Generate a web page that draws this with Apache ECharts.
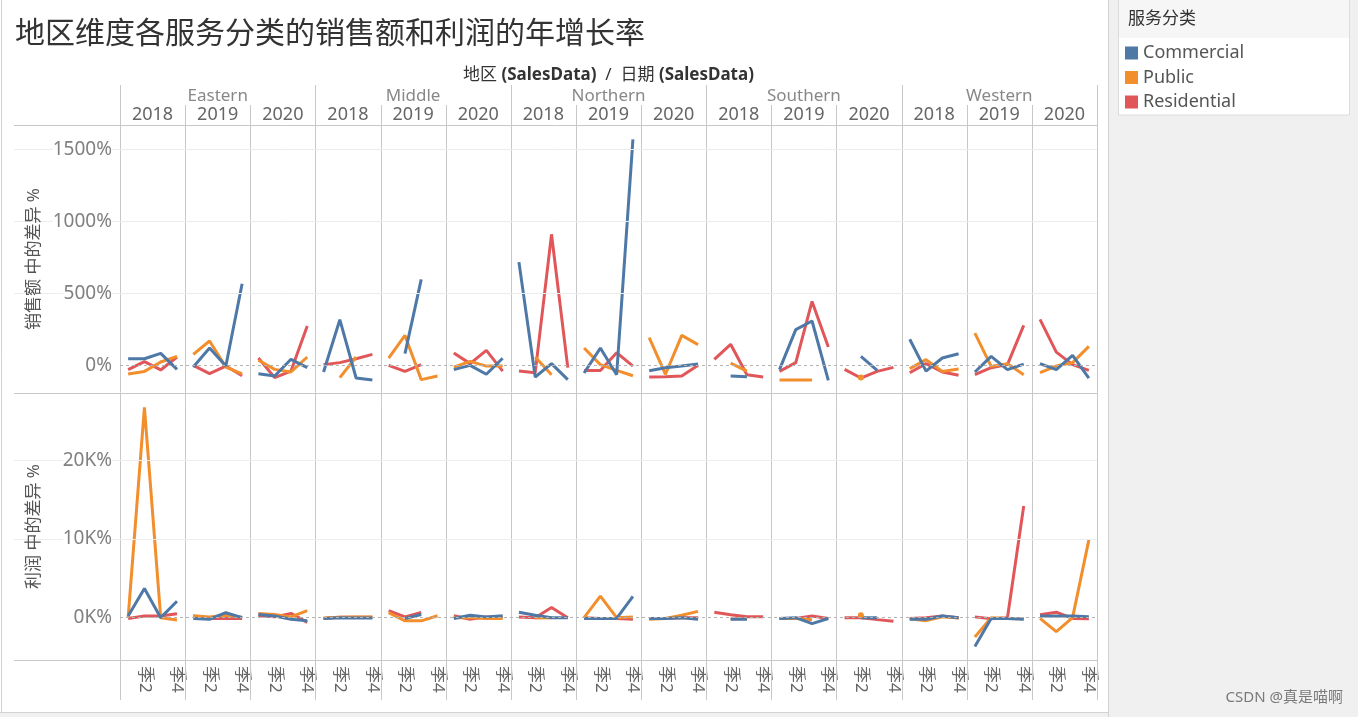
<!DOCTYPE html>
<html><head><meta charset="utf-8">
<script src="https://cdn.jsdelivr.net/npm/echarts@6/dist/echarts.min.js"></script>
<style>html,body{margin:0;padding:0;background:#fff}#c{width:1358px;height:717px}</style>
</head><body><div id="c"></div>
<script>
// ---------------- data ----------------
const regions = ['Eastern', 'Middle', 'Northern', 'Southern', 'Western'];
const years = ['2018', '2019', '2020'];
const quarters = ['季1', '季2', '季3', '季4'];
const serviceTypes = ['Commercial', 'Public', 'Residential'];
const salesTicks = [0, 500, 1000, 1500];
const profitTicks = [0, 10000, 20000];

// 销售额 中的差异 % : 15 panels (region x year) x 4 quarters
const salesCommercial = [
  46, 46, 83, -28,     -12, 120, -5, 567,     -58, -74, 42, -16,
  -46, 317, -88, -102, null, 81, 597, null,   -30, 0, -62, 49,
  717, -81, 12, -99,   -53, 120, -65, 1569,   -37, -16, -5, 9,
  null, -74, -79, null, -30, 248, 308, -104,  null, 62, -35, null,
  181, -40, 51, 81,    -46, 62, -30, 9,       12, -30, 69, -88
];
const salesPublic = [
  -60, -42, 23, 62,    76, 169, -12, -60,     35, -28, -46, 58,
  null, -85, 58, null, 51, 208, -99, -74,     -12, 28, -5, -5,
  null, 58, -65, null, 120, 5, -35, -72,      192, -62, 208, 144,
  null, 16, -40, null, -102, -102, -102, null, null, -85, null, null,
  -23, 40, -42, -26,   224, -7, 12, -65,      -51, -5, 19, 132
];
const salesResidential = [
  -30, 26, -32, 58,    0, -58, -5, -72,       51, -85, -40, 273,
  5, 19, 46, 76,       0, -42, 5, null,       85, 12, 104, -40,
  -40, -51, 910, -16,  -35, -35, 88, -5,      -81, -79, -74, 0,
  42, 146, -65, -81,   -42, 19, 444, 127,     -28, -88, -42, -14,
  -51, 12, -46, -69,   -65, -16, 5, 278,      319, 92, 5, -35
];

// 利润 中的差异 %
const profitCommercial = [
  200, 3700, 0, 2080,   -100, -200, 630, 0,    400, 200, -200, -400,
  -100, 0, -50, -50,    null, -100, 400, null, -100, 300, 100, 250,
  700, 300, 0, 0,       -100, -100, -100, 2700, -100, -100, 0, -200,
  null, -200, -200, null, -100, 0, -760, -100, null, 0, 0, null,
  -200, -200, 200, 0,   -3660, -100, -100, -200, 200, 200, 200, 130
];
const profitPublic = [
  0, 26725, 0, -300,    250, 100, 300, 50,     540, 400, 100, 900,
  -50, 50, 100, 100,    650, -400, -400, 250,  0, 0, -100, -100,
  null, -50, 0, null,   0, 2730, 0, 100,       -200, -100, 300, 800,
  null, -150, -150, null, -100, -100, -250, null, null, 300, null, null,
  -150, -380, 100, -50, -2450, 0, -100, -150,  -100, -1770, 0, 9890
];
const profitResidential = [
  -100, 200, 200, 500,  200, -100, -100, -100, 250, 100, 540, -600,
  -100, 50, 50, 50,     900, 100, 650, null,   250, -200, 100, 100,
  100, 0, 1300, 0,      0, -100, -100, -200,   -100, -100, 0, 0,
  700, 380, 130, 130,   -100, -100, 200, -100, 0, 0, -250, -470,
  -100, 0, 200, 0,      100, -150, 0, 14180,   380, 700, -100, -150
];

// ---------------- layout ----------------
const PLOT_L = 120, PLOT_R = 1097, AXIS_L = 14;
const NP = regions.length * years.length;
const PW = (PLOT_R - PLOT_L) / NP;
const rowsDef = [
  { top: 125, height: 268, min: -192, max: 1669, ticks: salesTicks,
    fmt: v => v + '%', title: '销售额 中的差异 %',
    data: { Commercial: salesCommercial, Public: salesPublic, Residential: salesResidential } },
  { top: 393, height: 267, min: -5380, max: 28550, ticks: profitTicks,
    fmt: v => (v / 1000) + 'K%', title: '利润 中的差异 %',
    data: { Commercial: profitCommercial, Public: profitPublic, Residential: profitResidential } }
];
const colors = { Commercial: '#4e79a7', Public: '#f28e2b', Residential: '#e15759' };
const drawOrder = ['Residential', 'Public', 'Commercial'];
const FONT = "'Noto Sans', 'Noto Sans CJK SC', sans-serif";

const grid = [], xAxis = [], yAxis = [], series = [];

rowsDef.forEach((row, r) => {
  // background grid for gridlines (pixel-scaled x axis)
  const bi = grid.length;
  grid.push({ left: AXIS_L, width: PLOT_R - AXIS_L, top: row.top, height: row.height, show: false });
  xAxis.push({ gridIndex: bi, type: 'value', min: AXIS_L, max: PLOT_R, show: false });
  yAxis.push({ gridIndex: bi, type: 'value', min: row.min, max: row.max, show: false });
  const gl = row.ticks.filter(t => t !== 0).map(t => [{ xAxis: AXIS_L, yAxis: t }, { xAxis: PLOT_R, yAxis: t }]);
  gl.push([{ xAxis: PLOT_L, yAxis: 0, lineStyle: { type: [3, 3], color: '#b4b4b4' } }, { xAxis: PLOT_R, yAxis: 0 }]);
  series.push({
    type: 'line', xAxisIndex: bi, yAxisIndex: bi, data: [], silent: true, z: -1,
    markLine: { silent: true, symbol: 'none', label: { show: false }, animation: false,
      lineStyle: { color: '#ededed', width: 1, type: 'solid' }, data: gl }
  });

  for (let c = 0; c < NP; c++) {
    const gi = grid.length;
    grid.push({ left: PLOT_L + c * PW, width: PW, top: row.top, height: row.height, show: false });
    xAxis.push({
      gridIndex: gi, type: 'category', data: quarters, boundaryGap: true,
      axisLine: { show: false }, axisTick: { show: false }, splitLine: { show: false },
      axisLabel: {
        show: r === 1, interval: (i) => i % 2 === 1, rotate: -90, margin: 6,
        fontSize: 17, color: '#666', fontFamily: FONT
      }
    });
    yAxis.push({
      gridIndex: gi, type: 'value', min: row.min, max: row.max, z: 5,
      axisLine: { show: false }, axisTick: { show: false }, splitLine: { show: false },
      axisLabel: {
        show: c === 0, customValues: row.ticks, formatter: row.fmt, margin: 8,
        fontSize: 19, color: '#808080', fontFamily: FONT, backgroundColor: '#fff'
      },
      name: c === 0 ? row.title : '', nameLocation: 'middle', nameGap: 77, nameRotate: 90,
      nameTextStyle: { fontSize: 17, color: '#555', fontFamily: FONT }
    });
    drawOrder.forEach(cat => {
      const vals = row.data[cat].slice(c * 4, c * 4 + 4);
      const data = vals.map((v, i) => {
        const isolated = v != null && (i === 0 || vals[i - 1] == null) && (i === 3 || vals[i + 1] == null);
        return isolated ? { value: v, symbol: 'circle', symbolSize: 6 } : v;
      });
      series.push({
        name: cat, type: 'line', xAxisIndex: gi, yAxisIndex: gi, data,
        symbol: 'none', showSymbol: true, connectNulls: false, z: 3,
        lineStyle: { color: colors[cat], width: 3 },
        itemStyle: { color: colors[cat] },
        emphasis: { disabled: true }
      });
    });
  }
});

// ---------------- decoration ----------------
const graphic = [];
const LC = '#c8c8c8';
graphic.push({ type: 'rect', z: -10, shape: { x: 1108, y: 0, width: 250, height: 717 }, style: { fill: '#f0f0f0' } });
graphic.push({ type: 'rect', z: -10, shape: { x: 0, y: 713, width: 1108, height: 4 }, style: { fill: '#f0f0f0' } });
graphic.push({ type: 'line', z: -9, shape: { x1: 1108.5, y1: 0, x2: 1108.5, y2: 717 }, style: { stroke: '#d2d2d2', lineWidth: 1 } });
graphic.push({ type: 'line', z: -9, shape: { x1: 0, y1: 712.5, x2: 1108, y2: 712.5 }, style: { stroke: '#d2d2d2', lineWidth: 1 } });
graphic.push({ type: 'line', z: -9, shape: { x1: 1.5, y1: 0, x2: 1.5, y2: 713 }, style: { stroke: '#d2d2d2', lineWidth: 1 } });
// legend box
graphic.push({ type: 'rect', z: -5, shape: { x: 1118.5, y: -1, width: 231, height: 116 }, style: { fill: '#fff', stroke: '#dcdcdc', lineWidth: 1 } });
graphic.push({ type: 'rect', z: -4, shape: { x: 1119, y: 0, width: 230, height: 38 }, style: { fill: '#f6f6f6' } });
graphic.push({ type: 'text', z: 5, style: { text: '服务分类', x: 1128, y: 19, verticalAlign: 'middle', fontSize: 17, fill: '#333', fontFamily: FONT } });
// title
graphic.push({ type: 'text', z: 5, style: { text: '地区维度各服务分类的销售额和利润的年增长率', x: 15, y: 32, verticalAlign: 'middle', fontSize: 30, fill: '#333', fontFamily: "'Noto Sans CJK SC', sans-serif" } });
// header caption
graphic.push({ type: 'text', z: 5, style: {
  text: '地区 {b|(SalesData)}  /  日期 {b|(SalesData)}', x: (PLOT_L + PLOT_R) / 2, y: 75, align: 'center', verticalAlign: 'middle',
  fontSize: 17, fill: '#333', fontFamily: FONT, rich: { b: { fontWeight: 'bold', fontSize: 17, fill: '#333', fontFamily: FONT } } } });
regions.forEach((rg, i) => {
  graphic.push({ type: 'text', z: 5, style: { text: rg, x: PLOT_L + (i * 3 + 1.5) * PW, y: 96, align: 'center', verticalAlign: 'middle', fontSize: 17, fill: '#888', fontFamily: FONT } });
  years.forEach((yr, j) => {
    graphic.push({ type: 'text', z: 5, style: { text: yr, x: PLOT_L + (i * 3 + j + 0.5) * PW, y: 115, align: 'center', verticalAlign: 'middle', fontSize: 18, fill: '#666', fontFamily: FONT } });
  });
});
// separators
for (let k = 0; k <= NP; k++) {
  const x = Math.round(PLOT_L + k * PW) + 0.5;
  graphic.push({ type: 'line', z: 2, shape: { x1: x, y1: (k % 3 === 0) ? 85 : 105, x2: x, y2: 700 }, style: { stroke: LC, lineWidth: 1 } });
}
[125, 393, 660].forEach(y => {
  graphic.push({ type: 'line', z: 2, shape: { x1: AXIS_L, y1: y + 0.5, x2: PLOT_R, y2: y + 0.5 }, style: { stroke: LC, lineWidth: 1 } });
});
// watermark
graphic.push({ type: 'text', z: 5, style: { text: 'CSDN @真是喵啊', x: 1343, y: 698, align: 'right', verticalAlign: 'middle', fontSize: 15, fill: '#7a7a7a', fontFamily: FONT } });

const chart = echarts.init(document.getElementById('c'), null, { renderer: 'canvas' });
chart.setOption({
  animation: false,
  backgroundColor: '#fff',
  textStyle: { fontFamily: FONT },
  legend: {
    data: serviceTypes, orient: 'vertical', left: 1125, top: 43, padding: 0, icon: 'rect',
    itemWidth: 13, itemHeight: 13, itemGap: 4.5, selectedMode: false,
    textStyle: { fontSize: 18, color: '#555', lineHeight: 20, fontFamily: FONT }
  },
  grid, xAxis, yAxis, series, graphic
});
</script>
</body></html>
